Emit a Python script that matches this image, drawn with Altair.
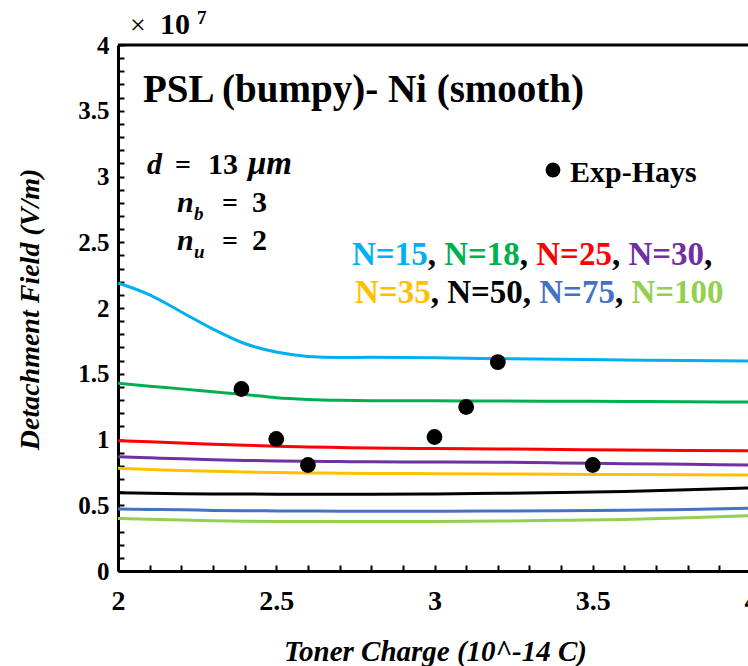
import altair as alt
import pandas as pd

# ---------------- data ----------------
X_CURVE = [2.0, 2.1, 2.2, 2.3, 2.4, 2.5, 2.6, 2.7, 2.8, 3.0, 3.2, 3.4, 3.6, 3.8, 4.0]
N15 = [2.19, 2.10, 1.97, 1.84, 1.73, 1.665, 1.632, 1.624, 1.625, 1.622, 1.614, 1.610, 1.605, 1.600, 1.597]
N18 = [1.427, 1.405, 1.385, 1.363, 1.342, 1.318, 1.305, 1.298, 1.295, 1.294, 1.293, 1.291, 1.289, 1.287, 1.285]
N25 = [0.991, 0.982, 0.973, 0.964, 0.956, 0.949, 0.943, 0.939, 0.935, 0.931, 0.928, 0.924, 0.920, 0.917, 0.915]
N30 = [0.869, 0.861, 0.853, 0.846, 0.841, 0.837, 0.834, 0.832, 0.830, 0.829, 0.827, 0.822, 0.816, 0.811, 0.806]
N35 = [0.781, 0.772, 0.764, 0.758, 0.753, 0.749, 0.746, 0.744, 0.742, 0.740, 0.738, 0.736, 0.733, 0.731, 0.730]
N50 = [0.595, 0.591, 0.588, 0.586, 0.585, 0.584, 0.583, 0.583, 0.583, 0.586, 0.591, 0.597, 0.605, 0.617, 0.632]
N75 = [0.471, 0.468, 0.465, 0.461, 0.458, 0.457, 0.456, 0.455, 0.455, 0.455, 0.456, 0.458, 0.462, 0.468, 0.477]
N100 = [0.400, 0.393, 0.387, 0.382, 0.379, 0.377, 0.376, 0.376, 0.376, 0.377, 0.380, 0.385, 0.392, 0.404, 0.420]

SERIES_NAMES = ["N=15", "N=18", "N=25", "N=30", "N=35", "N=50", "N=75", "N=100"]
SERIES_VALUES = [N15, N18, N25, N30, N35, N50, N75, N100]
SERIES_COLORS = ["#00B0F0", "#00B050", "#FF0000", "#7030A0", "#FFC000", "#000000", "#4472C4", "#92D050"]

EXP_X = [2.39, 2.5, 2.6, 3.0, 3.1, 3.2, 3.5]
EXP_Y = [1.384, 1.004, 0.806, 1.019, 1.247, 1.589, 0.806]

# ---------------- layout ----------------
LEFT, TOP = 118, 45
W, H = 630, 526
XRANGE = 633
SERIF = "Liberation Serif"

rows = []
for name, vals in zip(SERIES_NAMES, SERIES_VALUES):
    for xv, yv in zip(X_CURVE, vals):
        rows.append({"x": xv, "y": yv, "series": name})
curves = pd.DataFrame(rows)
exp = pd.DataFrame({"x": EXP_X, "y": EXP_Y})

# tick positions every 0.1 (labels only every 0.5)
X_TICKS = [round(2 + i * 0.1, 2) for i in range(0, 21)]
Y_TICKS = [round(i * 0.1, 2) for i in range(0, 41)]
MAJOR_ONLY = "(abs(datum.value * 2 - round(datum.value * 2)) < 0.001) ? datum.label : ''"

ONE = pd.DataFrame({"k": [0]})

x_axis = alt.Axis(
    values=X_TICKS, format=".1~f", labelExpr=MAJOR_ONLY,
    ticks=True, tickSize={"expr": "-6"}, tickWidth=2, tickColor="black", grid=False,
    labelFont=SERIF, labelFontSize=28, labelFontWeight="bold", labelColor="black",
    labelPadding=22, labelFlush=False, labelOverlap=False,
    domainColor="black", domainWidth=3,
    title="Toner Charge (10^-14 C)", titleFont=SERIF, titleFontSize=29,
    titleFontStyle="italic", titleFontWeight="bold", titleColor="black",
    titleX=317, titleY=89, titleAlign="center", titleBaseline="alphabetic",
)
y_axis = alt.Axis(
    values=Y_TICKS, format=".1~f", labelExpr=MAJOR_ONLY,
    ticks=True, tickSize={"expr": "-6"}, tickWidth=2, tickColor="black", grid=False,
    labelFont=SERIF, labelFontSize=25, labelFontWeight="bold", labelColor="black",
    labelPadding=15, labelFlush=False, labelOverlap=False,
    domainColor="black", domainWidth=3,
    title="Detachment Field (V/m)", titleFont=SERIF, titleFontSize=28,
    titleFontStyle="italic", titleFontWeight="bold", titleColor="black",
    titleAngle=270, titleX=-80, titleY=264, titleAlign="center", titleBaseline="alphabetic",
)
x_scale = alt.Scale(domain=[2, 4], range=[0, XRANGE], nice=False, zero=False)
y_scale = alt.Scale(domain=[0, 4], nice=False, zero=True)

def X():
    return alt.X("x:Q", scale=x_scale, axis=x_axis)

def Y():
    return alt.Y("y:Q", scale=y_scale, axis=y_axis)

lines = alt.Chart(curves).mark_line(strokeWidth=3, interpolate="monotone").encode(
    x=X(), y=Y(),
    color=alt.Color("series:N", scale=alt.Scale(domain=SERIES_NAMES, range=SERIES_COLORS), legend=None),
)

points = alt.Chart(exp).mark_circle(size=250, color="black", opacity=1).encode(x=X(), y=Y())

top_border = alt.Chart(ONE).mark_rule(color="black", strokeWidth=3).encode(
    x=alt.value(0), x2=alt.value(XRANGE), y=alt.value(0)
)

def label(text, px, py, size, color="black", italic=False, bold=True):
    return alt.Chart(ONE).mark_text(
        text=text, font=SERIF, fontSize=size,
        fontWeight="bold" if bold else "normal",
        fontStyle="italic" if italic else "normal",
        color=color, align="left", baseline="alphabetic",
    ).encode(x=alt.value(px - LEFT), y=alt.value(py - TOP))

texts = [
    label("×", 130, 34, 28, bold=False),
    label("10", 160, 34, 30, bold=True),
    label("7", 197, 24, 19, bold=True),
    label("PSL (bumpy)- Ni (smooth)", 143, 102, 39),
    label("d", 147, 174, 30, italic=True),
    label("=", 175, 174, 28),
    label("13", 208, 174, 30),
    label("μm", 248, 174, 33, italic=True),
    label("n", 177, 212, 30, italic=True),
    label("b", 194, 220, 19, italic=True),
    label("=", 222, 212, 28),
    label("3", 252, 212, 30),
    label("n", 177, 250, 30, italic=True),
    label("u", 194, 258, 19, italic=True),
    label("=", 222, 250, 28),
    label("2", 252, 250, 30),
    label("Exp-Hays", 570, 182, 30),
]

legend_dot = alt.Chart(ONE).mark_circle(size=220, color="black", opacity=1).encode(
    x=alt.value(553 - LEFT), y=alt.value(170 - TOP)
)

# colored legend text, positioned with Times-Bold advance widths
ADV = {"N": 722, "=": 570, ",": 250, " ": 250}
def adv(s, size):
    return sum(ADV.get(c, 500) for c in s) * size / 1000.0

LEG_SIZE = 33
def legend_line(names, colors, x0, base, trailing_comma):
    out = []
    x = x0
    for i, (n, c) in enumerate(zip(names, colors)):
        out.append(label(n, x, base, LEG_SIZE, color=c))
        x += adv(n, LEG_SIZE)
        if i < len(names) - 1 or trailing_comma:
            out.append(label(",", x, base, LEG_SIZE))
            x += adv(", ", LEG_SIZE)
    return out

leg1 = legend_line(SERIES_NAMES[:4], SERIES_COLORS[:4], 352, 265, True)
leg2 = legend_line(SERIES_NAMES[4:], SERIES_COLORS[4:], 355, 303, False)

chart = alt.layer(
    lines, points,
    top_border, legend_dot,
    *texts, *leg1, *leg2,
).properties(
    width=W, height=H,
    padding={"left": LEFT, "top": TOP, "right": 0, "bottom": 666 - TOP - H},
    autosize=alt.AutoSizeParams(type="none"),
    background="white",
).configure_view(stroke=None)

chart.save("out.html", embed_options={"renderer": "svg", "actions": False})
